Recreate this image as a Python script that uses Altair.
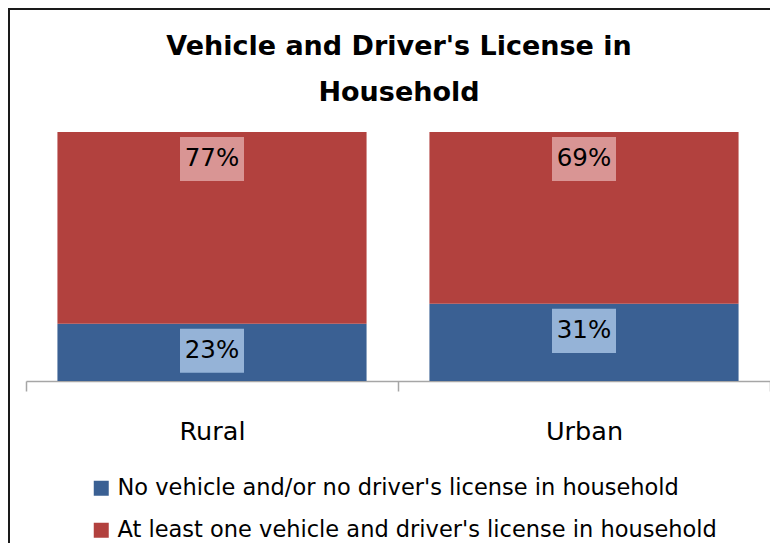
import altair as alt
import pandas as pd

categories = ["Rural", "Urban"]
series = [
    "No vehicle and/or no driver's license in household",
    "At least one vehicle and driver's license in household",
]
no_vehicle = [23, 31]
has_vehicle = [77, 69]
labels_no = ["23%", "31%"]
labels_has = ["77%", "69%"]
colors = ["#3A6093", "#B2413E"]
box_colors = ["#95B3D7", "#D99594"]
title_lines = ["Vehicle and Driver's License in", "Household"]

FONT = "DejaVu Sans"
LABEL_DROP = 27 / 249 * 100  # label sits just inside the segment end

rows = []
for i, c in enumerate(categories):
    rows.append(dict(cat=c, series=series[0], start=0, end=no_vehicle[i],
                     label=labels_no[i], box=box_colors[0]))
    rows.append(dict(cat=c, series=series[1], start=no_vehicle[i],
                     end=no_vehicle[i] + has_vehicle[i],
                     label=labels_has[i], box=box_colors[1]))
df = pd.DataFrame(rows)
df["ly"] = df["end"] - LABEL_DROP

xscale = alt.Scale(domain=categories, paddingInner=0, paddingOuter=0)
yscale = alt.Scale(domain=[0, 100])

x_enc = alt.X("cat:N", scale=xscale, sort=categories,
              axis=alt.Axis(title=None, tickBand="extent", domainColor="#A6A6A6",
                            tickColor="#A6A6A6", domainWidth=1.5, tickWidth=1.5,
                            tickSize=10, labelFontSize=25.5, labelFont=FONT,
                            labelColor="#000000", labelPadding=40,
                            labelBaseline="middle", labelAngle=0))

base = alt.Chart(df)

bars = base.mark_bar(width=alt.RelativeBandSize(0.831)).encode(
    x=x_enc,
    y=alt.Y("start:Q", scale=yscale, axis=None),
    y2="end:Q",
    color=alt.Color("series:N", scale=alt.Scale(domain=series, range=colors),
                    legend=alt.Legend(title=None, orient="none", legendX=64, legendY=345,
                                      symbolType="square", symbolSize=225,
                                      symbolStrokeWidth=0, labelFont=FONT,
                                      labelFontSize=22.5, labelColor="#000000",
                                      labelLimit=800, rowPadding=19, padding=0,
                                      labelOffset=5)),
    order=alt.Order("start:Q"),
)

boxes = base.mark_point(
    shape="M-1,-0.69L1,-0.69L1,0.69L-1,0.69Z", size=4096, filled=True,
    opacity=1, strokeWidth=0,
).encode(
    x=alt.X("cat:N", scale=xscale, sort=categories),
    y=alt.Y("ly:Q", scale=yscale),
    fill=alt.Fill("box:N", scale=None),
)

texts = base.mark_text(font=FONT, fontSize=24.5, color="#000000", baseline="middle").encode(
    x=alt.X("cat:N", scale=xscale, sort=categories),
    y=alt.Y("ly:Q", scale=yscale),
    text="label:N",
)

title_df = pd.DataFrame({"t": title_lines})
title1 = alt.Chart(title_df).transform_filter(alt.datum.t == title_lines[0]).mark_text(
    font=FONT, fontSize=27, fontWeight="bold", color="#000000", baseline="middle", align="center"
).encode(x=alt.value(373), y=alt.value(-85), text="t:N")
title2 = alt.Chart(title_df).transform_filter(alt.datum.t == title_lines[1]).mark_text(
    font=FONT, fontSize=27, fontWeight="bold", color="#000000", baseline="middle", align="center"
).encode(x=alt.value(373), y=alt.value(-39), text="t:N")

one = pd.DataFrame({"k": [0]})
frame_top = alt.Chart(one).mark_rect(color="#1a1a1a").encode(
    x=alt.value(-18), x2=alt.value(744), y=alt.value(-124), y2=alt.value(-122)
)
frame_left = alt.Chart(one).mark_rect(color="#1a1a1a").encode(
    x=alt.value(-18), x2=alt.value(-16), y=alt.value(-124), y2=alt.value(420)
)

chart = alt.layer(bars, boxes, texts, title1, title2, frame_top, frame_left).properties(
    width=744,
    height=249,
    background="white",
    autosize=alt.AutoSizeParams(type="none"),
    padding={"left": 18, "top": 124, "right": 0, "bottom": 162},
).configure_view(strokeWidth=0, stroke="transparent")

chart.save("out.html", embed_options={"renderer": "svg", "actions": False})
